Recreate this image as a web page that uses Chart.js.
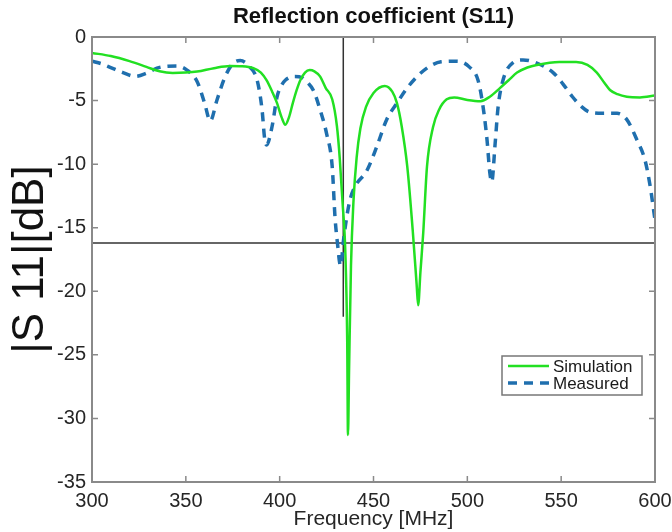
<!DOCTYPE html>
<html>
<head>
<meta charset="utf-8">
<title>Reflection coefficient (S11)</title>
<script src="https://cdn.jsdelivr.net/npm/chart.js@4.4.1/dist/chart.umd.min.js"></script>
<style>
  html, body { margin: 0; padding: 0; background: #fff; }
  #wrap { width: 672px; height: 532px; }
</style>
</head>
<body>
<div id="wrap"><canvas id="s11Chart" width="672" height="532"></canvas></div>
<script>
// Datos (frecuencia en MHz, |S11| en dB)
const simFreq = [300, 310, 320, 329, 336, 343, 350, 356, 365, 373.5, 380, 386, 390, 393, 396, 398.6, 401, 403, 405, 407,
  409, 411, 413.5, 416, 418.5, 421.5, 424.5, 428, 430.5, 432, 433.5, 435, 436, 436.4, 437, 438, 439.3, 441, 443, 446,
  450, 456, 460, 462.5, 465, 468, 471, 473, 473.8, 475, 476.5, 478.5, 481.7, 485, 489, 493, 500, 507, 512, 517.5,
  522, 526.5, 532, 537, 549, 558, 564, 569, 573, 576, 580, 585, 592, 600];
const simDb = [-1.25, -1.5, -1.9, -2.35, -2.7, -2.83, -2.8, -2.72, -2.45, -2.28, -2.3, -2.45, -2.8, -3.4, -4.3, -5.2, -6.3, -6.9, -6.3, -5.2,
  -4.2, -3.4, -2.8, -2.6, -2.7, -3.1, -4.0, -4.9, -7.0, -9.5, -13, -17, -24, -31.3, -26, -18, -13, -9.5, -7.2, -5.5,
  -4.4, -3.85, -4.3, -5.2, -7.0, -10.2, -15.4, -19.5, -21.1, -18.5, -15.4, -10.2, -7.1, -5.7, -4.9, -4.75, -4.95, -5.05, -4.7, -4.0,
  -3.4, -2.8, -2.4, -2.2, -1.97, -1.97, -2.2, -2.8, -3.6, -4.17, -4.5, -4.7, -4.75, -4.6];

const measFreq = [300, 305, 310, 316.5, 323, 329, 334.6, 340, 345, 350.6, 356, 360, 363, 366.6, 371, 375, 379, 384, 388, 390.6,
  392, 393, 396, 398.6, 401, 403, 408, 412, 415, 418, 421.5, 425, 428, 429.5, 431, 432, 432.5, 434, 435.7, 437.5,
  440, 446.5, 451.8, 457, 462.5, 468, 474, 480, 486, 494.5, 501, 505.7, 508.4, 510.5, 512, 513, 514.8, 516.4, 519, 524.5,
  529.7, 537, 545.7, 551, 556, 561, 565, 572, 579.8, 585, 590.4, 594.7, 597.5, 600];
const measDb = [-1.9, -2.1, -2.4, -2.8, -3.1, -2.85, -2.45, -2.3, -2.28, -2.6, -3.5, -5.2, -6.6, -4.95, -3.1, -2.1, -1.85, -2.35, -3.4, -5.7,
  -8.0, -8.5, -7.0, -4.7, -3.8, -3.4, -3.1, -3.2, -3.6, -4.2, -5.7, -7.6, -10.2, -14.2, -16.5, -17.8, -18, -16, -14.2, -12.8,
  -11.8, -10.5, -8.6, -6.5, -5.2, -4.0, -3.0, -2.3, -1.95, -1.9, -2.35, -3.4, -5.5, -8.1, -10.7, -11.4, -8.4, -5.5, -3.4, -2.0,
  -1.8, -2.05, -2.8, -3.7, -4.7, -5.5, -5.9, -6.0, -6.0, -6.5, -8.1, -9.7, -11.8, -14.4];

// Líneas de referencia (marcador 433.9 MHz y nivel -16.2 dB)
const markerFreq = [433.9, 433.9];
const markerDb = [0, -22];
const levelFreq = [300, 600];
const levelDb = [-16.2, -16.2];

const xTicks = [300, 350, 400, 450, 500, 550, 600];
const yTicks = [0, -5, -10, -15, -20, -25, -30, -35];

const FONT = "'Liberation Sans', Arial, Helvetica, sans-serif";

function toPoints(xs, ys) {
  return xs.map((x, i) => ({ x: x, y: ys[i] }));
}

// Marco, ticks hacia dentro y leyenda dentro del área
const framePlugin = {
  id: "frame",
  afterDatasetsDraw(chart) {
    const { ctx, chartArea: a, scales } = chart;
    ctx.save();
    ctx.strokeStyle = "#8a8a8a";
    ctx.lineWidth = 2;
    ctx.strokeRect(a.left, a.top, a.right - a.left, a.bottom - a.top);
    ctx.lineWidth = 1.5;
    ctx.beginPath();
    xTicks.forEach((t) => {
      const px = scales.x.getPixelForValue(t);
      ctx.moveTo(px, a.bottom);
      ctx.lineTo(px, a.bottom - 6);
      ctx.moveTo(px, a.top);
      ctx.lineTo(px, a.top + 6);
    });
    yTicks.forEach((t) => {
      const py = scales.y.getPixelForValue(t);
      ctx.moveTo(a.left, py);
      ctx.lineTo(a.left + 6, py);
      ctx.moveTo(a.right, py);
      ctx.lineTo(a.right - 6, py);
    });
    ctx.stroke();
    ctx.restore();
  },
  afterDraw(chart) {
    const { ctx } = chart;
    const ds = chart.data.datasets.slice(0, 2);
    const bx = 502, by = 356, bw = 140, bh = 39;
    ctx.save();
    ctx.fillStyle = "#fff";
    ctx.fillRect(bx, by, bw, bh);
    ctx.strokeStyle = "#777";
    ctx.lineWidth = 1.5;
    ctx.strokeRect(bx, by, bw, bh);
    ctx.font = "17px " + FONT;
    ctx.textBaseline = "middle";
    ds.forEach((d, i) => {
      const cy = by + 10 + i * 17;
      ctx.strokeStyle = d.borderColor;
      ctx.lineWidth = d.borderWidth;
      ctx.setLineDash(d.borderDash || []);
      ctx.beginPath();
      ctx.moveTo(bx + 6, cy);
      ctx.lineTo(bx + 47, cy);
      ctx.stroke();
      ctx.setLineDash([]);
      ctx.fillStyle = "#1a1a1a";
      ctx.fillText(d.label, bx + 51, cy + 1);
    });
    ctx.restore();
  },
};

const ctx = document.getElementById("s11Chart").getContext("2d");
new Chart(ctx, {
  type: "scatter",
  data: {
    datasets: [
      {
        label: "Simulation",
        data: toPoints(simFreq, simDb),
        showLine: true,
        borderColor: "#22e022",
        borderWidth: 2.5,
        pointRadius: 0,
        cubicInterpolationMode: "monotone",
      },
      {
        label: "Measured",
        data: toPoints(measFreq, measDb),
        showLine: true,
        borderColor: "#1f6fae",
        borderWidth: 3.5,
        borderDash: [9, 7],
        pointRadius: 0,
        cubicInterpolationMode: "monotone",
      },
      {
        label: "marker",
        data: toPoints(markerFreq, markerDb),
        showLine: true,
        borderColor: "#333",
        borderWidth: 1.5,
        pointRadius: 0,
      },
      {
        label: "level",
        data: toPoints(levelFreq, levelDb),
        showLine: true,
        borderColor: "#333",
        borderWidth: 1.5,
        pointRadius: 0,
      },
    ],
  },
  options: {
    responsive: false,
    animation: false,
    devicePixelRatio: 1,
    layout: { padding: { left: 0, right: 17, top: 0, bottom: 0 } },
    plugins: {
      legend: { display: false },
      tooltip: { enabled: false },
      title: {
        display: true,
        text: "Reflection coefficient (S11)",
        fullSize: false,
        color: "#111",
        font: { family: FONT, size: 22, weight: "bold" },
        padding: { top: 4, bottom: 6.6 },
      },
    },
    scales: {
      x: {
        type: "linear",
        min: 300,
        max: 600,
        afterFit: (scale) => {
          scale.height = 50;
          scale.paddingLeft = 0;
          scale.paddingRight = 0;
        },
        afterBuildTicks: (scale) => { scale.ticks = xTicks.map((v) => ({ value: v })); },
        grid: { display: false, drawTicks: false },
        border: { display: false },
        ticks: { color: "#262626", padding: 7, maxRotation: 0, font: { family: FONT, size: 20 } },
        title: {
          display: true,
          text: "Frequency [MHz]",
          color: "#262626",
          font: { family: FONT, size: 21 },
          padding: { top: 0, bottom: 0 },
        },
      },
      y: {
        type: "linear",
        min: -35,
        max: 0,
        afterFit: (scale) => {
          scale.width = 92;
          scale.paddingTop = 0;
          scale.paddingBottom = 0;
        },
        afterBuildTicks: (scale) => { scale.ticks = yTicks.map((v) => ({ value: v })); },
        grid: { display: false, drawTicks: false },
        border: { display: false },
        ticks: { color: "#262626", padding: 6, font: { family: FONT, size: 20 } },
        title: {
          display: true,
          text: "|S 11|[dB]",
          color: "#111",
          font: { family: FONT, size: 44 },
          padding: { top: 4.5, bottom: 0 },
        },
      },
    },
  },
  plugins: [framePlugin],
});
</script>
</body>
</html>
